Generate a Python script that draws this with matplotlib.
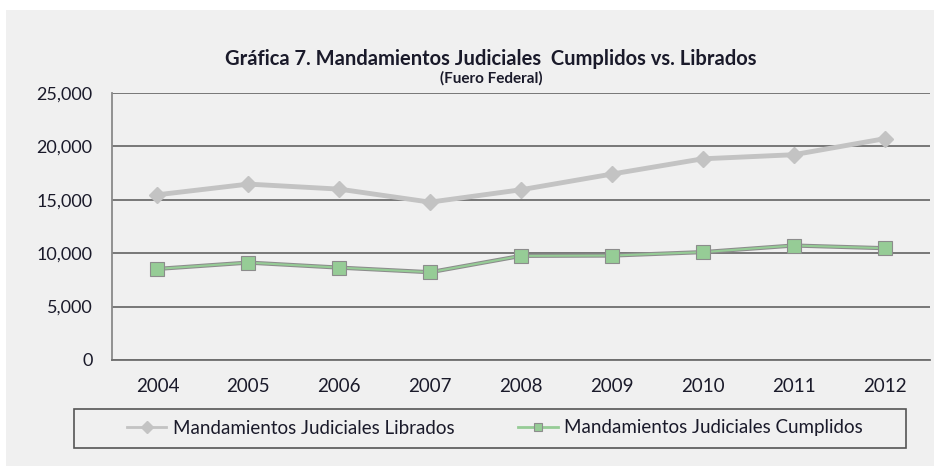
import matplotlib.pyplot as plt
from matplotlib.patches import Rectangle
from matplotlib.ticker import FuncFormatter

years = ['2004', '2005', '2006', '2007', '2008', '2009', '2010', '2011', '2012']
librados = [15470, 16470, 16000, 14780, 15940, 17410, 18840, 19220, 20720]
cumplidos = [8530, 9120, 8650, 8220, 9750, 9780, 10100, 10720, 10470]

plt.rcParams['font.family'] = ['Lato', 'DejaVu Sans']

bg = '#f0f0f0'
W, H = 944, 466
fig = plt.figure(figsize=(9.44, 4.66), dpi=100)
fig.patch.set_facecolor('white')
# gray panel behind the chart
fig.patches.append(Rectangle((6 / W, 0), 928 / W, 1 - 10 / H,
                             transform=fig.transFigure, facecolor=bg,
                             edgecolor='none', zorder=-10))

ax = fig.add_axes([112 / W, 1 - 360 / H, 818 / W, 267 / H])
ax.set_facecolor(bg)

x = range(len(years))
# librados: light gray line with diamonds
ax.plot(x, librados, color='#c3c3c3', lw=3.5, marker='D', ms=8.5,
        mfc='#c3c3c3', mec='#c3c3c3', zorder=3,
        label='Mandamientos Judiciales Librados')
# cumplidos: gray shadow under a green line with squares
ax.plot(x, cumplidos, color='#8c8c8c', lw=3, zorder=2)
ax.plot(x, cumplidos, color='#96cc96', lw=1.5, marker='s', ms=10,
        mfc='#96cc96', mec='#8c8c8c', mew=0.8, zorder=3,
        label='Mandamientos Judiciales Cumplidos')

ax.set_xlim(-0.5, 8.5)
ax.set_ylim(0, 25000)
ax.set_yticks(range(0, 25001, 5000))
ax.yaxis.set_major_formatter(FuncFormatter(lambda v, p: f'{int(v):,}'))
ax.set_xticks(list(x))
ax.set_xticklabels(years)
ax.grid(axis='y', color='#6e6e6e', lw=1.3)
ax.set_axisbelow(True)
for s in ['top', 'right']:
    ax.spines[s].set_visible(False)
ax.spines['left'].set_color('#8a8a8a')
ax.spines['bottom'].set_color('#6e6e6e')
ax.spines['left'].set_linewidth(1.3)
ax.spines['bottom'].set_linewidth(1.3)
ax.tick_params(length=0, labelsize=13, colors='#1a1a2a')
ax.tick_params(axis='x', pad=13, labelsize=13.5)
ax.tick_params(axis='y', pad=14)

fig.text(491 / W, 1 - 59 / H, 'Gráfica 7. Mandamientos Judiciales  Cumplidos vs. Librados',
         ha='center', va='center', fontsize=14.5, fontweight='bold', color='#1a1a2a')
fig.text(491 / W, 1 - 78 / H, '(Fuero Federal)', ha='center', va='center',
         fontsize=11, fontweight='bold', color='#1a1a2a')

# legend frame drawn separately so its size matches the reference box
fig.patches.append(Rectangle((74 / W, 1 - 448 / H), 832 / W, 39 / H,
                             transform=fig.transFigure, facecolor=bg,
                             edgecolor='#555555', lw=1.2, zorder=1))
leg = fig.legend(loc='center', bbox_to_anchor=(495 / W, 1 - 428 / H), ncol=2,
                 frameon=False, fontsize=13.5, columnspacing=3.4,
                 handlelength=2.1, handletextpad=0.35, labelcolor='#1a1a2a')
leg.set_zorder(2)
for h in leg.legend_handles:
    h.set_markersize(6)
    h.set_linewidth(2)

fig.savefig('out.png', dpi=100, facecolor=fig.get_facecolor())
